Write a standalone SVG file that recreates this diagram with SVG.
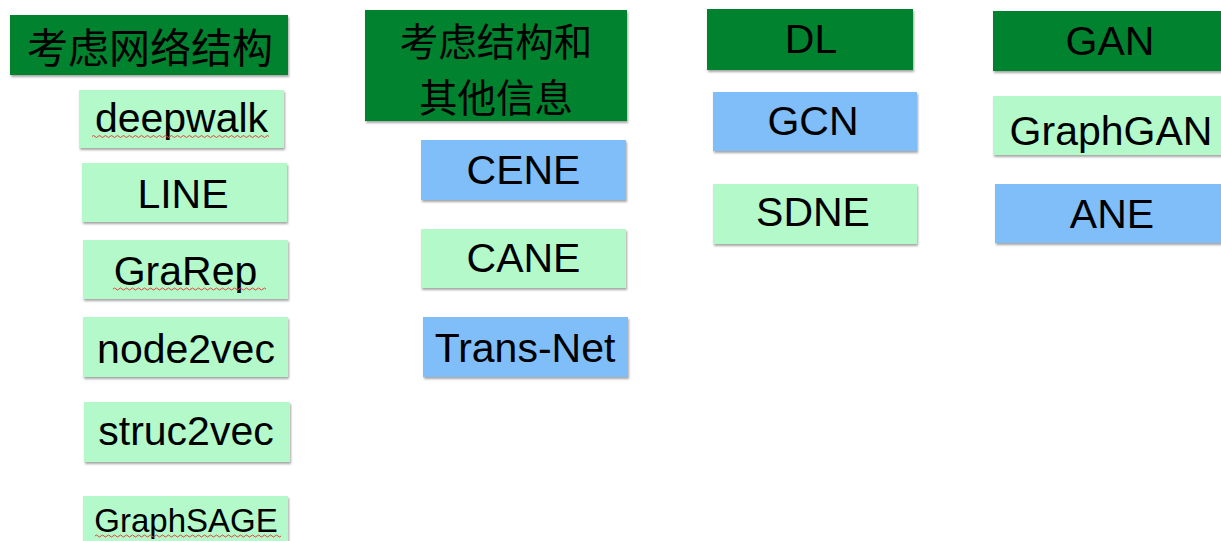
<svg xmlns="http://www.w3.org/2000/svg" width="1221" height="541" viewBox="0 0 1221 541">
<style>
.dk{fill:#00822e}
.lg{fill:#b3f9c9}
.bl{fill:#80bef9}
rect{filter:url(#sh)}
.t{font-family:"Liberation Sans",Arial,Helvetica,sans-serif;font-size:41px;fill:#000;text-anchor:middle}
.c{font-family:"Noto Sans CJK SC","Noto Sans CJK JP",sans-serif;font-size:41px;fill:#000;text-anchor:middle;dominant-baseline:central}
.sq{fill:none;stroke:#e8403a;stroke-width:1}
</style>
<defs>
<filter id="sh" x="-5%" y="-10%" width="115%" height="130%">
<feDropShadow dx="1" dy="2" stdDeviation="0.8" flood-color="#000" flood-opacity="0.35"/>
</filter>
</defs>
<rect width="1221" height="541" fill="#fff" style="filter:none"/>
<g id="h1"><rect class="dk" x="10" y="15" width="278" height="60"/><text class="c" x="150" y="45">考虑网络结构</text></g>
<g id="deepwalk"><rect class="lg" x="79" y="90" width="205" height="58"/><text class="t" x="181.5" y="132">deepwalk</text><path class="sq" d="M92 136.5 q1.5 -2 3 0 t3 0 t3 0 t3 0 t3 0 t3 0 t3 0 t3 0 t3 0 t3 0 t3 0 t3 0 t3 0 t3 0 t3 0 t3 0 t3 0 t3 0 t3 0 t3 0 t3 0 t3 0 t3 0 t3 0 t3 0 t3 0 t3 0 t3 0 t3 0 t3 0 t3 0 t3 0 t3 0 t3 0 t3 0 t3 0 t3 0 t3 0 t3 0 t3 0 t3 0 t3 0 t3 0 t3 0 t3 0 t3 0 t3 0 t3 0 t3 0 t3 0 t3 0 t3 0 t3 0 t3 0 t3 0 t3 0 t3 0 t3 0 t3 0"/></g>
<g id="line"><rect class="lg" x="82" y="163" width="205" height="59"/><text class="t" x="183" y="208">LINE</text></g>
<g id="grarep"><rect class="lg" x="83" y="240" width="205" height="59"/><text class="t" x="185.5" y="285">GraRep</text><path class="sq" d="M113 289 q1.5 -2 3 0 t3 0 t3 0 t3 0 t3 0 t3 0 t3 0 t3 0 t3 0 t3 0 t3 0 t3 0 t3 0 t3 0 t3 0 t3 0 t3 0 t3 0 t3 0 t3 0 t3 0 t3 0 t3 0 t3 0 t3 0 t3 0 t3 0 t3 0 t3 0 t3 0 t3 0 t3 0 t3 0 t3 0 t3 0 t3 0 t3 0 t3 0 t3 0 t3 0 t3 0 t3 0 t3 0 t3 0 t3 0 t3 0 t3 0 t3 0 t3 0 t3 0 t3 0"/></g>
<g id="node2vec"><rect class="lg" x="83" y="317" width="205" height="60"/><text class="t" x="186" y="363">node2vec</text></g>
<g id="struc2vec"><rect class="lg" x="84" y="402" width="206" height="60"/><text class="t" x="186" y="445">struc2vec</text></g>
<g id="graphsage"><rect class="lg" x="83" y="496" width="205" height="50"/><text class="t" x="186" y="532" style="font-size:33px">GraphSAGE</text><path class="sq" d="M95 536 q1.5 -2 3 0 t3 0 t3 0 t3 0 t3 0 t3 0 t3 0 t3 0 t3 0 t3 0 t3 0 t3 0 t3 0 t3 0 t3 0 t3 0 t3 0 t3 0 t3 0 t3 0 t3 0 t3 0 t3 0 t3 0 t3 0 t3 0 t3 0 t3 0 t3 0 t3 0 t3 0 t3 0 t3 0 t3 0 t3 0 t3 0 t3 0 t3 0 t3 0 t3 0 t3 0 t3 0 t3 0 t3 0 t3 0 t3 0 t3 0 t3 0 t3 0 t3 0 t3 0 t3 0 t3 0 t3 0 t3 0 t3 0 t3 0 t3 0 t3 0 t3 0 t3 0 t3 0"/></g>
<g id="h2"><rect class="dk" x="365" y="10" width="262" height="111"/><text class="c" x="496" y="38.5" style="font-size:38.5px">考虑结构和</text><text class="c" x="496" y="94.5" style="font-size:38.5px">其他信息</text></g>
<g id="cene"><rect class="bl" x="421" y="140" width="205" height="60"/><text class="t" x="523.5" y="184">CENE</text></g>
<g id="cane"><rect class="lg" x="421" y="229" width="205" height="59"/><text class="t" x="523.5" y="272">CANE</text></g>
<g id="transnet"><rect class="bl" x="423" y="317" width="205" height="60"/><text class="t" x="525" y="362">Trans-Net</text></g>
<g id="dl"><rect class="dk" x="707" y="9" width="206" height="61"/><text class="t" x="811" y="53">DL</text></g>
<g id="gcn"><rect class="bl" x="713" y="92" width="204" height="59"/><text class="t" x="813" y="135">GCN</text></g>
<g id="sdne"><rect class="lg" x="713" y="184" width="204" height="60"/><text class="t" x="813" y="226">SDNE</text></g>
<g id="gan"><rect class="dk" x="993" y="11" width="240" height="60"/><text class="t" x="1110" y="55">GAN</text></g>
<g id="graphgan"><rect class="lg" x="993" y="96" width="240" height="59"/><text class="t" x="1111" y="145">GraphGAN</text></g>
<g id="ane"><rect class="bl" x="995" y="184" width="240" height="59"/><text class="t" x="1112" y="228">ANE</text></g>
<g id="connectors"></g>
</svg>
